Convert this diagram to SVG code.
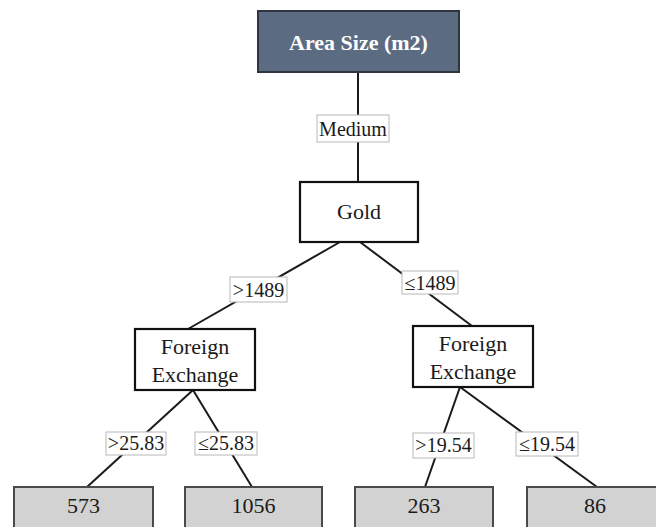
<svg xmlns="http://www.w3.org/2000/svg" width="656" height="527" viewBox="0 0 656 527">
  <style>
    text { font-family: "Liberation Serif", "Times New Roman", serif; text-anchor: middle; fill: #1a1a1a; }
    .edge { stroke: #1a1a1a; stroke-width: 2; fill: none; }
    .root { fill: #5b6b82; stroke: #2f3640; stroke-width: 2; }
    .root-text { fill: #ffffff; font-weight: bold; font-size: 22px; }
    .split { fill: #ffffff; stroke: #111111; stroke-width: 2.2; }
    .split-text { font-size: 22px; }
    .leaf { fill: #d2d2d2; stroke: #4a4a4a; stroke-width: 2; }
    .leaf-text { font-size: 22px; }
    .cond { fill: #ffffff; stroke: #b8b8b8; stroke-width: 1; }
    .cond-text { font-size: 20px; }
  </style>
  <rect width="656" height="527" fill="#ffffff"/>

  <g id="connectors">
    <line class="edge" x1="358" y1="72" x2="358" y2="182"/>
    <line class="edge" x1="340" y1="242" x2="188" y2="329"/>
    <line class="edge" x1="360" y1="242" x2="472" y2="326"/>
    <line class="edge" x1="193" y1="390" x2="87" y2="487"/>
    <line class="edge" x1="193" y1="390" x2="252" y2="487"/>
    <line class="edge" x1="460" y1="387" x2="425" y2="487"/>
    <line class="edge" x1="460" y1="387" x2="597" y2="487"/>
  </g>

  <g id="edge-labels">
    <g id="label-medium">
      <rect class="cond" x="317" y="115" width="72" height="27"/>
      <text class="cond-text" x="353" y="136">Medium</text>
    </g>
    <g id="label-gt1489">
      <rect class="cond" x="230" y="277" width="57" height="25"/>
      <text class="cond-text" x="258.5" y="297">&gt;1489</text>
    </g>
    <g id="label-le1489">
      <rect class="cond" x="402" y="271" width="56" height="23"/>
      <text class="cond-text" x="430" y="290">≤1489</text>
    </g>
    <g id="label-gt2583">
      <rect class="cond" x="106" y="432" width="60" height="23"/>
      <text class="cond-text" x="136" y="450">&gt;25.83</text>
    </g>
    <g id="label-le2583">
      <rect class="cond" x="195" y="432" width="62" height="23"/>
      <text class="cond-text" x="226" y="450">≤25.83</text>
    </g>
    <g id="label-gt1954">
      <rect class="cond" x="413" y="433" width="61" height="25"/>
      <text class="cond-text" x="443.5" y="452">&gt;19.54</text>
    </g>
    <g id="label-le1954">
      <rect class="cond" x="516" y="432" width="62" height="24"/>
      <text class="cond-text" x="547" y="451">≤19.54</text>
    </g>
  </g>

  <g id="node-area-size">
    <rect class="root" x="258" y="11" width="201" height="61"/>
    <text class="root-text" x="358.5" y="50">Area Size (m2)</text>
  </g>

  <g id="node-gold">
    <rect class="split" x="300" y="182" width="118" height="60"/>
    <text class="split-text" x="359" y="219">Gold</text>
  </g>

  <g id="node-fx-left">
    <rect class="split" x="135" y="329" width="120" height="61"/>
    <text class="split-text" x="195" y="354">Foreign</text>
    <text class="split-text" x="195" y="382">Exchange</text>
  </g>

  <g id="node-fx-right">
    <rect class="split" x="413" y="326" width="120" height="61"/>
    <text class="split-text" x="473" y="351">Foreign</text>
    <text class="split-text" x="473" y="379">Exchange</text>
  </g>

  <g id="leaf-573">
    <rect class="leaf" x="14" y="487" width="139" height="55"/>
    <text class="leaf-text" x="83.5" y="513">573</text>
  </g>
  <g id="leaf-1056">
    <rect class="leaf" x="185" y="487" width="137" height="55"/>
    <text class="leaf-text" x="253.5" y="513">1056</text>
  </g>
  <g id="leaf-263">
    <rect class="leaf" x="355" y="487" width="138" height="55"/>
    <text class="leaf-text" x="424" y="513">263</text>
  </g>
  <g id="leaf-86">
    <rect class="leaf" x="527" y="487" width="136" height="55"/>
    <text class="leaf-text" x="595" y="513">86</text>
  </g>
</svg>
